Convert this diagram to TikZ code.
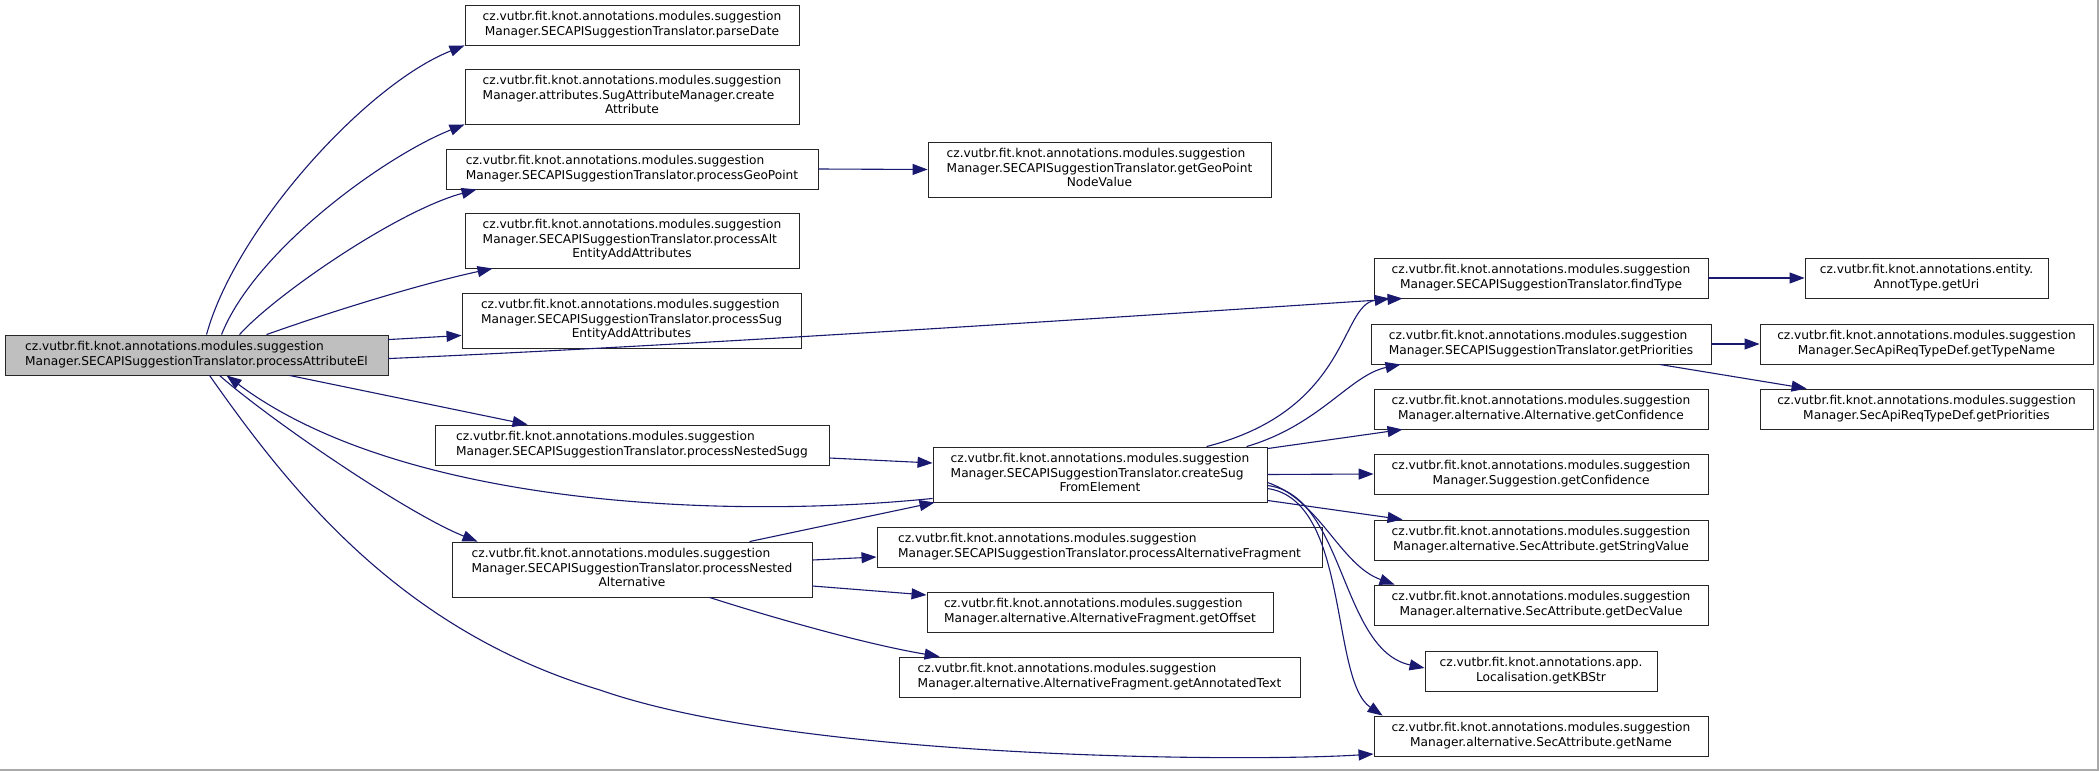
\documentclass[tikz,border=0pt]{standalone}
\usepackage{fontspec}
\setmainfont{DejaVu Sans}
\usetikzlibrary{arrows.meta}
\definecolor{edgec}{RGB}{25,25,112}
\definecolor{mainfill}{RGB}{191,191,191}
\definecolor{framec}{RGB}{170,170,170}
\newcommand\lblB[2]{\begin{tabular}{@{}l@{}}#1\\\multicolumn{1}{@{}c@{}}{#2}\end{tabular}}
\newcommand\lblC[3]{\begin{tabular}{@{}l@{}}#1\\#2\\\multicolumn{1}{@{}c@{}}{#3}\end{tabular}}
\newcommand\pkgname{cz.vutbr.fit.knot.annotations.modules.suggestion}
\begin{document}
\begin{tikzpicture}[x=1pt,y=-1pt,
  fn/.style={draw=black!85, line width=0.9pt, rectangle, inner sep=1pt,
    font=\fontsize{12.2}{14.5}\selectfont, minimum height=40pt},
  fnthree/.style={fn, minimum height=55pt},
  call/.style={draw=edgec, line width=1.1pt, -{Triangle[length=15pt,width=11pt]}}]
\useasboundingbox (0,0) rectangle (2099,771);
\fill[white] (0,0) rectangle (2099,771);
\draw[framec, line width=1.5pt] (2098,0) -- (2098,770) -- (0,770);

% column 1
\node[fn, minimum width=383pt, fill=mainfill] (main) at (196.5,355)
  {\lblB{\pkgname}{Manager.SECAPISuggestionTranslator.processAttributeEl}};
% column 2
\node[fn, minimum width=334pt] (parseDate) at (632,25)
  {\lblB{\pkgname}{Manager.SECAPISuggestionTranslator.parseDate}};
\node[fnthree, minimum width=334pt] (createAttr) at (632,96.5)
  {\lblC{\pkgname}{Manager.attributes.SugAttributeManager.create}{Attribute}};
\node[fn, minimum width=372pt] (geoPoint) at (632,169)
  {\lblB{\pkgname}{Manager.SECAPISuggestionTranslator.processGeoPoint}};
\node[fnthree, minimum width=334pt] (processAlt) at (632,240.5)
  {\lblC{\pkgname}{Manager.SECAPISuggestionTranslator.processAlt}{EntityAddAttributes}};
\node[fnthree, minimum width=339pt] (processSug) at (631.5,320.5)
  {\lblC{\pkgname}{Manager.SECAPISuggestionTranslator.processSug}{EntityAddAttributes}};
\node[fn, minimum width=394pt] (nestedSugg) at (632,445)
  {\lblB{\pkgname}{Manager.SECAPISuggestionTranslator.processNestedSugg}};
\node[fnthree, minimum width=360pt] (nestedAlt) at (632,569.5)
  {\lblC{\pkgname}{Manager.SECAPISuggestionTranslator.processNested}{Alternative}};
% column 3
\node[fnthree, minimum width=343pt] (geoVal) at (1099.5,169.5)
  {\lblC{\pkgname}{Manager.SECAPISuggestionTranslator.getGeoPoint}{NodeValue}};
\node[fnthree, minimum width=334pt] (createSug) at (1100,474.5)
  {\lblC{\pkgname}{Manager.SECAPISuggestionTranslator.createSug}{FromElement}};
\node[fn, minimum width=445pt] (altFrag) at (1099.5,547)
  {\lblB{\pkgname}{Manager.SECAPISuggestionTranslator.processAlternativeFragment}};
\node[fn, minimum width=346pt] (getOffset) at (1100,612)
  {\lblB{\pkgname}{Manager.alternative.AlternativeFragment.getOffset}};
\node[fn, minimum width=401pt] (annText) at (1099.5,677)
  {\lblB{\pkgname}{Manager.alternative.AlternativeFragment.getAnnotatedText}};
% column 4
\node[fn, minimum width=334pt] (findType) at (1541,278)
  {\lblB{\pkgname}{Manager.SECAPISuggestionTranslator.findType}};
\node[fn, minimum width=340pt] (getPrio) at (1541,344)
  {\lblB{\pkgname}{Manager.SECAPISuggestionTranslator.getPriorities}};
\node[fn, minimum width=334pt] (altConf) at (1541,409)
  {\lblB{\pkgname}{Manager.alternative.Alternative.getConfidence}};
\node[fn, minimum width=334pt] (sugConf) at (1541,474)
  {\lblB{\pkgname}{Manager.Suggestion.getConfidence}};
\node[fn, minimum width=334pt] (strVal) at (1541,540)
  {\lblB{\pkgname}{Manager.alternative.SecAttribute.getStringValue}};
\node[fn, minimum width=334pt] (decVal) at (1541,605)
  {\lblB{\pkgname}{Manager.alternative.SecAttribute.getDecValue}};
\node[fn, minimum width=232pt] (kbStr) at (1541,671)
  {\lblB{cz.vutbr.fit.knot.annotations.app.}{Localisation.getKBStr}};
\node[fn, minimum width=334pt] (getName) at (1541,736)
  {\lblB{\pkgname}{Manager.alternative.SecAttribute.getName}};
% column 5
\node[fn, minimum width=243pt] (getUri) at (1926.5,278)
  {\lblB{cz.vutbr.fit.knot.annotations.entity.}{AnnotType.getUri}};
\node[fn, minimum width=333pt] (typeName) at (1926.5,344)
  {\lblB{\pkgname}{Manager.SecApiReqTypeDef.getTypeName}};
\node[fn, minimum width=333pt] (secPrio) at (1926.5,409)
  {\lblB{\pkgname}{Manager.SecApiReqTypeDef.getPriorities}};

% edges from main
\draw[call] ([xshift=202pt]main.north west) .. controls (235,230) and (365,85) .. (parseDate.south west);
\draw[call] ([xshift=217pt]main.north west) .. controls (255,250) and (385,156) .. (createAttr.south west);
\draw[call] ([xshift=235pt]main.north west) .. controls (275,295) and (397,211) .. ([xshift=31pt]geoPoint.south west);
\draw[call] ([xshift=262pt]main.north west) .. controls (330,312) and (420,284) .. ([xshift=28pt]processAlt.south west);
\draw[call] ([yshift=-5pt]main.north east) -- ([yshift=13pt]processSug.south west);
\draw[call] ([yshift=-24pt]main.north east) .. controls (700,345) and (1150,315) .. ([xshift=29pt]findType.south west);
\draw[call] ([xshift=285pt]main.south west) -- ([xshift=93pt]nestedSugg.north west);
\draw[call] ([xshift=215pt]main.south west) .. controls (270,420) and (408,514) .. ([xshift=26pt]nestedAlt.north west);
\draw[call] ([xshift=205pt]main.south west) .. controls (290,490) and (400,630) .. (600,690)
  .. controls (800,760) and (1250,762) .. ([yshift=-18pt]getName.west);
% back edge
\draw[call] ([yshift=4pt]createSug.south west) .. controls (720,520) and (400,505) .. ([xshift=222pt]main.south west);
% column 2 out
\draw[call] (geoPoint.east) -- (geoVal.west);
\draw[call] ([yshift=-13pt]nestedSugg.east) -- ([yshift=11.5pt]createSug.west);
\draw[call] ([xshift=298pt]nestedAlt.north west) -- ([xshift=2pt]createSug.south west);
\draw[call] ([yshift=9.5pt]nestedAlt.east) -- ([yshift=-10pt]altFrag.west);
\draw[call] ([yshift=-16.5pt]nestedAlt.east) -- ([yshift=17pt]getOffset.west);
\draw[call] ([xshift=258pt]nestedAlt.south west) .. controls (780,620) and (870,645) .. ([xshift=41pt]annText.north west);
% createSug out
\draw[call] ([xshift=274pt]createSug.north west) .. controls (1350,410) and (1340,305) .. ([xshift=16pt]findType.south west);
\draw[call] ([xshift=314pt]createSug.north west) .. controls (1320,425) and (1350,375) .. ([xshift=30pt]getPrio.south west);
\draw[call] ([yshift=-2pt]createSug.north east) -- ([xshift=29pt]altConf.south west);
\draw[call] (createSug.east) -- (sugConf.west);
\draw[call] ([yshift=2pt]createSug.south east) -- ([xshift=29pt]strVal.north west);
\draw[call] ([yshift=-8pt]createSug.east) .. controls (1320,500) and (1340,565) .. ([xshift=21pt]decVal.north west);
\draw[call] ([yshift=-11pt]createSug.east) .. controls (1345,495) and (1340,650) .. ([yshift=3pt]kbStr.west);
\draw[call] ([yshift=-14pt]createSug.east) .. controls (1350,500) and (1330,680) .. ([xshift=9pt]getName.north west);
% column 4 out
\draw[call] (findType.east) -- (getUri.west);
\draw[call] (getPrio.east) -- (typeName.west);
\draw[call] ([xshift=289pt]getPrio.south west) -- ([xshift=47pt]secPrio.north west);
\end{tikzpicture}
\end{document}
